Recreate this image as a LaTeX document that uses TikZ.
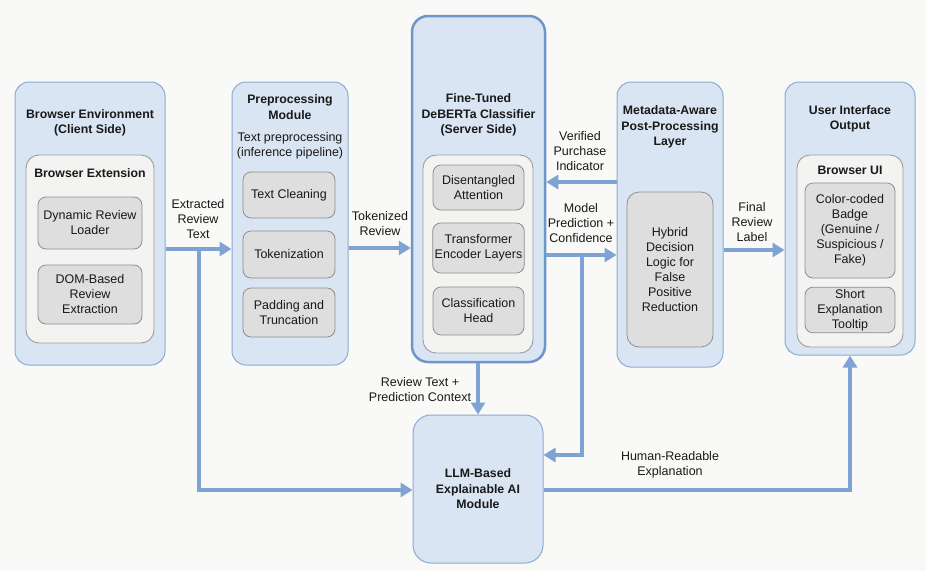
\documentclass[tikz,border=0pt]{standalone}
\usepackage{fontspec}
\setmainfont{Liberation Sans}
\usetikzlibrary{arrows.meta}
\definecolor{bgc}{HTML}{F9F9F7}
\definecolor{outerfill}{HTML}{DAE5F4}
\definecolor{outerdraw}{HTML}{8DAAD2}
\definecolor{debdraw}{HTML}{6E96C9}
\definecolor{innerfill}{HTML}{F3F3F2}
\definecolor{innerdraw}{HTML}{9C9C9C}
\definecolor{subfill}{HTML}{DEDEDE}
\definecolor{subdraw}{HTML}{8E8E8E}
\definecolor{arrc}{HTML}{7FA3D3}
\tikzset{
  every node/.style={font=\fontsize{12.5}{15}\selectfont, text=black!90},
  outerbox/.style={draw=outerdraw, fill=outerfill, line width=1pt, rounded corners=14pt, inner sep=0pt},
  debbox/.style={outerbox, draw=debdraw, line width=2.5pt, rounded corners=16pt},
  innerbox/.style={draw=innerdraw, fill=innerfill, line width=0.9pt, rounded corners=13pt, inner sep=0pt},
  subbox/.style={draw=subdraw, fill=subfill, line width=0.8pt, rounded corners=8pt, align=center, inner sep=2pt},
  ttl/.style={font=\fontsize{12.3}{15.5}\selectfont\bfseries, align=center, inner sep=0pt},
  lbl/.style={align=center, inner sep=0pt},
  arr/.style={draw=arrc, line width=3.6pt, -{Triangle[length=12pt,width=14pt]}},
  ln/.style={draw=arrc, line width=3.6pt}
}
\begin{document}
\begin{tikzpicture}[x=1pt,y=-1pt]
\fill[bgc] (0,0) rectangle (926,571);
\useasboundingbox (0,0) rectangle (926,571);

% Column 1
\node[outerbox, minimum width=150pt, minimum height=283pt] (b1) at (90,223.5) {};
\node[ttl] (t1) at (90,123) {Browser Environment\\(Client Side)};
\node[innerbox, minimum width=128pt, minimum height=188pt] (ext) at (90,249) {};
\node[ttl] (text) at (90,173) {Browser Extension};
\node[subbox, minimum width=104pt, minimum height=52pt] (dyn) at (90,223) {Dynamic Review\\Loader};
\node[subbox, minimum width=104pt, minimum height=59pt] (dom) at (90,294.5) {DOM-Based\\Review\\Extraction};

% Column 2
\node[outerbox, minimum width=116pt, minimum height=283pt] (b2) at (290,223.5) {};
\node[ttl] (t2) at (290,107) {Preprocessing\\Module};
\node[lbl] (s2) at (290,146) {Text preprocessing\\(inference pipeline)};
\node[subbox, minimum width=92pt, minimum height=46pt] (clean) at (289,195) {Text Cleaning};
\node[subbox, minimum width=92pt, minimum height=47pt] (tok) at (289,254.5) {Tokenization};
\node[subbox, minimum width=92pt, minimum height=49pt] (pad) at (289,312.5) {Padding and\\Truncation};

% Column 3
\node[debbox, minimum width=133pt, minimum height=346pt] (b3) at (478.5,189) {};
\node[ttl] (t3) at (478.5,115) {Fine-Tuned\\DeBERTa Classifier\\(Server Side)};
\node[innerbox, minimum width=110pt, minimum height=198pt] (in3) at (478,254) {};
\node[subbox, minimum width=91pt, minimum height=45pt] (dis) at (478.5,187.5) {Disentangled\\Attention};
\node[subbox, minimum width=91pt, minimum height=50pt] (trf) at (478.5,248) {Transformer\\Encoder Layers};
\node[subbox, minimum width=91pt, minimum height=48pt] (cls) at (478.5,311) {Classification\\Head};

% Column 4
\node[outerbox, minimum width=106pt, minimum height=285pt] (b4) at (670,224.5) {};
\node[ttl] (t4) at (670,127) {Metadata-Aware\\Post-Processing\\Layer};
\node[subbox, rounded corners=12pt, minimum width=86pt, minimum height=155pt] (hyb) at (670,269.5) {Hybrid\\Decision\\Logic for\\False\\Positive\\Reduction};

% Column 5
\node[outerbox, minimum width=130pt, minimum height=273pt] (b5) at (850,218.5) {};
\node[ttl] (t5) at (850,119) {User Interface\\Output};
\node[innerbox, minimum width=106pt, minimum height=192pt] (ui) at (850,251) {};
\node[ttl] (tui) at (850,170) {Browser UI};
\node[subbox, minimum width=90pt, minimum height=95pt] (badge) at (850,230.5) {Color-coded\\Badge\\(Genuine /\\Suspicious /\\Fake)};
\node[subbox, minimum width=90pt, minimum height=44pt] (tip) at (850,310) {Short\\Explanation\\Tooltip};

% LLM
\node[outerbox, minimum width=130pt, minimum height=148pt, rounded corners=18pt] (llm) at (478,489) {};
\node[ttl] (tllm) at (478,489) {LLM-Based\\Explainable AI\\Module};

% junction coordinates
\coordinate (j1) at (199,249);
\coordinate (jl) at (199,490);
\coordinate (j2) at (0,248);
\coordinate (j3) at (0,182);
\coordinate (j4) at (582,255);
\coordinate (jr) at (582,455);
\coordinate (j5) at (0,250);
\coordinate (j6) at (850,490);

% connectors
\draw[arr] (b1.east |- j1) -- (b2.west |- j1);
\draw[arr] (j1) -- (jl) -- (llm.west |- jl);
\draw[arr] (b2.east |- j2) -- (b3.west |- j2);
\draw[arr] (b4.west |- j3) -- (b3.east |- j3);
\draw[arr] (b3.east |- j4) -- (b4.west |- j4);
\draw[arr] (j4) -- (jr) -- (llm.east |- jr);
\draw[arr] (b4.east |- j5) -- (b5.west |- j5);
\draw[arr] (b3.south -| llm.north) -- (llm.north);
\draw[arr] (llm.east |- j6) -- (j6) -- (b5.south -| j6);

% labels
\node[lbl] (l1) at (198,219) {Extracted\\Review\\Text};
\node[lbl] (l2) at (380,224) {Tokenized\\Review};
\node[lbl] (l3) at (580,151) {Verified\\Purchase\\Indicator};
\node[lbl] (l4) at (581,223) {Model\\Prediction +\\Confidence};
\node[lbl] (l5) at (752,222) {Final\\Review\\Label};
\node[lbl] (l6) at (420,390) {Review Text +\\Prediction Context};
\node[lbl] (l7) at (670,465) {Human-Readable\\Explanation};
\end{tikzpicture}
\end{document}
